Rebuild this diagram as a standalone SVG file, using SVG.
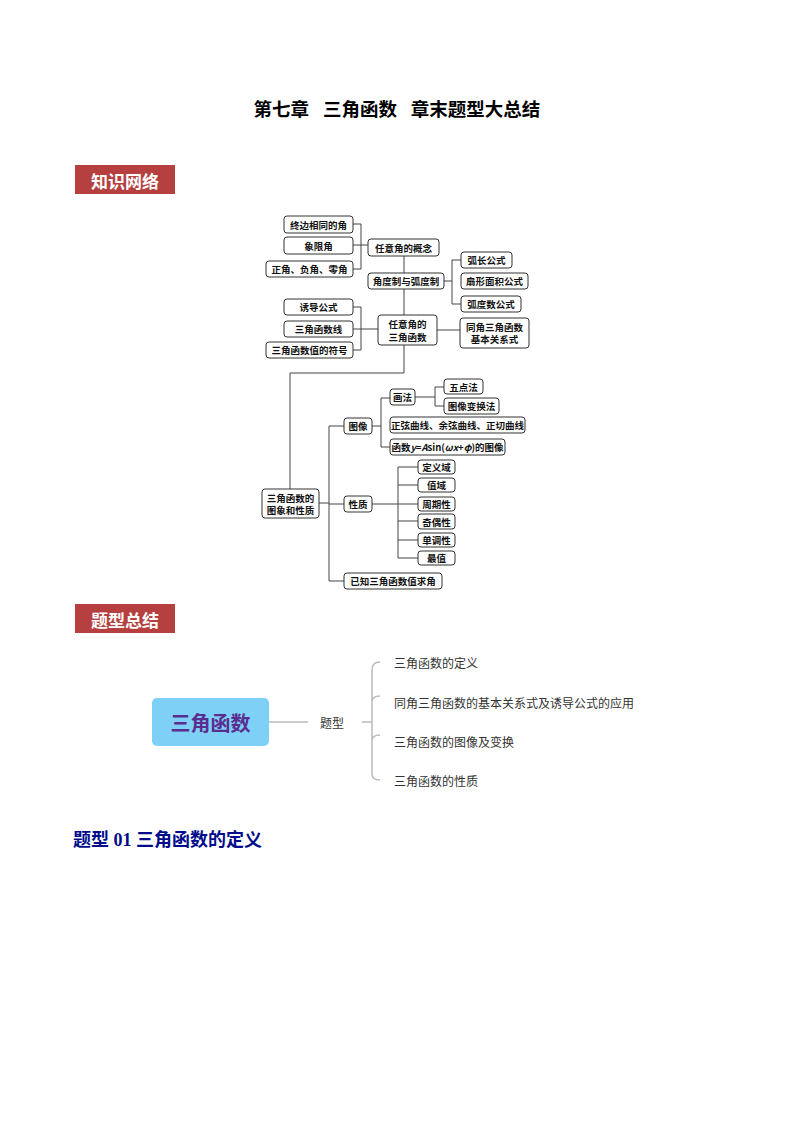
<svg xmlns="http://www.w3.org/2000/svg" width="794" height="1123" viewBox="0 0 794 1123">
<style>
.b{fill:#fff;stroke:#333;stroke-width:1;}
.t{font-family:"Noto Sans CJK SC",sans-serif;font-size:9.5px;font-weight:bold;fill:#111;text-anchor:middle;dominant-baseline:central;}
.c{fill:none;stroke:#444;stroke-width:1;}
.g{fill:none;stroke:#bbb;stroke-width:1.5;}
.m{font-family:"Noto Sans CJK SC",sans-serif;font-size:12px;fill:#333;dominant-baseline:central;}
</style>
<rect width="794" height="1123" fill="#fff"/>
<text x="397" y="110" xml:space="preserve" font-family="'Liberation Serif','Noto Sans CJK SC',serif" font-size="18.5" font-weight="bold" text-anchor="middle" dominant-baseline="central">第七章   三角函数   章末题型大总结</text>
<g id="h1"><rect x="75" y="165" width="100" height="29" fill="#b5403f"/><text x="125" y="180" font-family="'Noto Sans CJK SC',sans-serif" font-size="17" font-weight="bold" fill="#fff" text-anchor="middle" dominant-baseline="central">知识网络</text></g>
<g id="connectors">
<path class="c" d="M353,224H361V269H353M353,245H368M404,256V273M404,289V315M444,281H452M452,260V304M452,260H461M452,304H461M353,307H361V350H353M353,329H378M437,330H460M404,345V373H290V489M319,503H329M329,426V581M329,426H344M329,504H344M329,581H344M372,426H381M381,398V447M381,398H390M381,447H390M415,397H435M435,387V406H444M435,387H444M372,504H398M398,467V558M398,467H418M398,485H418M398,504H418M398,521H418M398,540H418M398,558H418"/>
<path class="g" d="M269,722H308M362,722H372M380,662Q372,662 372,670V774Q372,780 380,780M372,702Q372,696 380,696M372,741Q372,735 380,735"/>
</g>
<g id="n1"><rect class="b" x="284" y="216" width="69" height="17" rx="3"/><text class="t" x="318.5" y="224.5">终边相同的角</text></g>
<g id="n2"><rect class="b" x="284" y="237" width="69" height="17" rx="3"/><text class="t" x="318.5" y="245.5">象限角</text></g>
<g id="n3"><rect class="b" x="266" y="261" width="87" height="16" rx="3"/><text class="t" x="309.5" y="269">正角、负角、零角</text></g>
<g id="n4"><rect class="b" x="368" y="239" width="71" height="17" rx="3"/><text class="t" x="403.5" y="247.5">任意角的概念</text></g>
<g id="n5"><rect class="b" x="368" y="273" width="76" height="16" rx="3"/><text class="t" x="406" y="281">角度制与弧度制</text></g>
<g id="n6"><rect class="b" x="461" y="252" width="51" height="16" rx="3"/><text class="t" x="486.5" y="260">弧长公式</text></g>
<g id="n7"><rect class="b" x="461" y="273" width="67" height="16" rx="3"/><text class="t" x="494.5" y="281">扇形面积公式</text></g>
<g id="n8"><rect class="b" x="461" y="296" width="60" height="16" rx="3"/><text class="t" x="491" y="304">弧度数公式</text></g>
<g id="n9"><rect class="b" x="284" y="299" width="69" height="16" rx="3"/><text class="t" x="318.5" y="307">诱导公式</text></g>
<g id="n10"><rect class="b" x="284" y="321" width="69" height="16" rx="3"/><text class="t" x="318.5" y="329">三角函数线</text></g>
<g id="n11"><rect class="b" x="266" y="342" width="87" height="16" rx="3"/><text class="t" x="309.5" y="350">三角函数值的符号</text></g>
<g id="n12"><rect class="b" x="378" y="315" width="59" height="30" rx="3"/><text class="t" x="407.5" y="324">任意角的</text><text class="t" x="407.5" y="337">三角函数</text></g>
<g id="n13"><rect class="b" x="460" y="318" width="69" height="30" rx="3"/><text class="t" x="494.5" y="327">同角三角函数</text><text class="t" x="494.5" y="339">基本关系式</text></g>
<g id="n14"><rect class="b" x="262" y="489" width="57" height="29" rx="3"/><text class="t" x="290.5" y="497.5">三角函数的</text><text class="t" x="290.5" y="510">图象和性质</text></g>
<g id="n15"><rect class="b" x="344" y="418" width="28" height="16" rx="3"/><text class="t" x="358" y="426">图像</text></g>
<g id="n16"><rect class="b" x="344" y="496" width="28" height="16" rx="3"/><text class="t" x="358" y="504">性质</text></g>
<g id="n17"><rect class="b" x="344" y="573" width="98" height="16" rx="3"/><text class="t" x="393" y="581">已知三角函数值求角</text></g>
<g id="n18"><rect class="b" x="390" y="389" width="25" height="16" rx="3"/><text class="t" x="402.5" y="397">画法</text></g>
<g id="n19"><rect class="b" x="390" y="417" width="135" height="16" rx="3"/><text class="t" x="457.5" y="425">正弦曲线、余弦曲线、正切曲线</text></g>
<g id="n20"><rect class="b" x="390" y="439" width="115" height="16" rx="3"/><text class="t" x="447.5" y="447">函数<tspan font-style="italic">y</tspan>=<tspan font-style="italic">A</tspan>sin(<tspan font-style="italic">ωx</tspan>+<tspan font-style="italic">φ</tspan>)的图像</text></g>
<g id="n21"><rect class="b" x="444" y="379" width="39" height="15" rx="3"/><text class="t" x="463.5" y="386.5">五点法</text></g>
<g id="n22"><rect class="b" x="444" y="398" width="55" height="16" rx="3"/><text class="t" x="471.5" y="406">图像变换法</text></g>
<g id="n23"><rect class="b" x="418" y="460" width="37" height="14" rx="3"/><text class="t" x="436.5" y="467">定义域</text></g>
<g id="n24"><rect class="b" x="418" y="478" width="37" height="14" rx="3"/><text class="t" x="436.5" y="485">值域</text></g>
<g id="n25"><rect class="b" x="418" y="497" width="37" height="14" rx="3"/><text class="t" x="436.5" y="504">周期性</text></g>
<g id="n26"><rect class="b" x="418" y="514" width="37" height="15" rx="3"/><text class="t" x="436.5" y="521.5">奇偶性</text></g>
<g id="n27"><rect class="b" x="418" y="533" width="37" height="14" rx="3"/><text class="t" x="436.5" y="540">单调性</text></g>
<g id="n28"><rect class="b" x="418" y="551" width="37" height="14" rx="3"/><text class="t" x="436.5" y="558">最值</text></g>
<g id="h2"><rect x="75" y="604" width="100" height="29" fill="#b5403f"/><text x="125" y="619" font-family="'Noto Sans CJK SC',sans-serif" font-size="17" font-weight="bold" fill="#fff" text-anchor="middle" dominant-baseline="central">题型总结</text></g>
<g id="root"><rect x="152" y="698" width="117" height="48" rx="5" fill="#7fd0f6"/><text x="210.5" y="722" font-family="'Noto Sans CJK SC',sans-serif" font-size="20" font-weight="bold" fill="#5a2d91" text-anchor="middle" dominant-baseline="central">三角函数</text></g>
<g id="mid"><text class="m" x="320" y="722" font-size="14">题型</text></g>
<g id="i1"><text class="m" x="394" y="662">三角函数的定义</text></g>
<g id="i2"><text class="m" x="394" y="702">同角三角函数的基本关系式及诱导公式的应用</text></g>
<g id="i3"><text class="m" x="394" y="741">三角函数的图像及变换</text></g>
<g id="i4"><text class="m" x="394" y="780">三角函数的性质</text></g>
<text x="73" y="840" font-family="'Liberation Serif','Noto Sans CJK SC',serif" font-size="18" font-weight="bold" fill="#000c8c" dominant-baseline="central">题型 01 三角函数的定义</text>
</svg>
